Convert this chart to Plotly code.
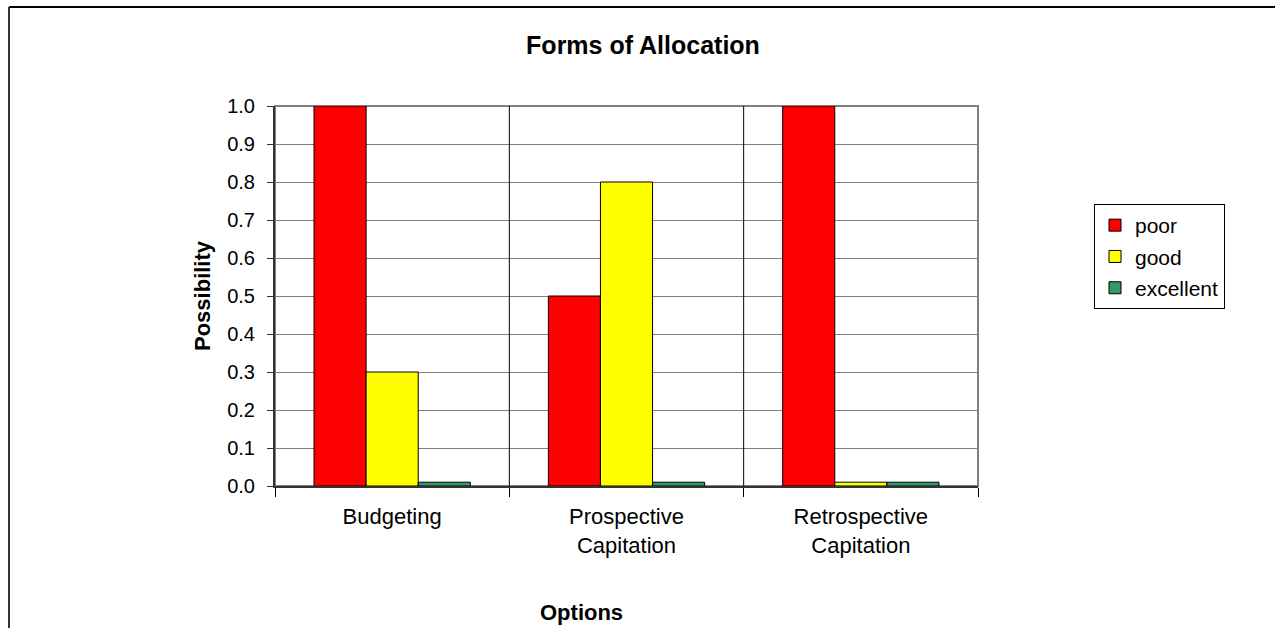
import plotly.graph_objects as go

# Allocation options and the possibility of each rating
categories = ["Budgeting", "Prospective<br>Capitation", "Retrospective<br>Capitation"]
poor = [1.0, 0.5, 1.0]
good = [0.3, 0.8, 0.01]
excellent = [0.01, 0.01, 0.01]
y_ticks = [0.0, 0.1, 0.2, 0.3, 0.4, 0.5, 0.6, 0.7, 0.8, 0.9, 1.0]

W, H = 1275, 628
L, R, T, B = 275, 978, 106, 486  # plot area in pixels
pw, ph = R - L, B - T


def px(x):
    return (x - L) / pw


def py(y):
    return (B - y) / ph


FONT = "Liberation Sans, Arial, sans-serif"

fig = go.Figure()
series = [("poor", poor, "#FF0000"), ("good", good, "#FFFF00"), ("excellent", excellent, "#339966")]
for name, vals, col in series:
    fig.add_trace(go.Bar(
        x=categories, y=vals, name=name, legendgroup=name,
        marker=dict(color=col, line=dict(color="black", width=1)),
    ))

shapes = [
    # plot area frame
    dict(type="rect", xref="paper", yref="paper", x0=0, x1=1, y0=0, y1=1,
         line=dict(color="#808080", width=2), layer="below"),
    # category dividers
    dict(type="line", xref="x", yref="paper", x0=0.5, x1=0.5, y0=0, y1=1,
         line=dict(color="black", width=1)),
    dict(type="line", xref="x", yref="paper", x0=1.5, x1=1.5, y0=0, y1=1,
         line=dict(color="black", width=1)),
    # outer chart border (top and left)
    dict(type="line", xref="paper", yref="paper", x0=px(9), x1=px(1276), y0=py(7), y1=py(7),
         line=dict(color="black", width=2)),
    dict(type="line", xref="paper", yref="paper", x0=px(9), x1=px(9), y0=py(7), y1=py(640),
         line=dict(color="#333333", width=2)),
]

annotations = [
    dict(text="<b>Possibility</b>", xref="paper", yref="paper", x=px(202), y=py(296),
         textangle=-90, showarrow=False, font=dict(family=FONT, size=22, color="black"),
         xanchor="center", yanchor="middle"),
    dict(text="<b>Options</b>", xref="paper", yref="paper", x=px(581), y=py(612),
         showarrow=False, font=dict(family=FONT, size=22, color="black"),
         xanchor="center", yanchor="middle"),
]

fig.update_layout(
    width=W, height=H,
    margin=dict(l=L, r=W - R, t=T, b=H - B, pad=0),
    paper_bgcolor="white", plot_bgcolor="white",
    barmode="group", bargap=0.333, bargroupgap=0,
    title=dict(text="<b>Forms of Allocation</b>", x=643 / W, xanchor="center",
               y=1 - 45 / H, yanchor="middle", font=dict(family=FONT, size=25, color="black")),
    font=dict(family=FONT, size=22, color="black"),
    xaxis=dict(
        type="category", tickson="boundaries", ticks="outside", ticklen=9,
        tickcolor="black", tickwidth=1, showgrid=False, showline=True,
        linecolor="#333333", linewidth=2, range=[-0.5, 2.5],
        tickfont=dict(family=FONT, size=22, color="black"), ticklabelstandoff=10,
    ),
    yaxis=dict(
        range=[0, 1.0], tickvals=y_ticks, tickformat=".1f", ticks="outside", ticklen=6,
        tickcolor="#333333", showgrid=True, gridcolor="#808080", gridwidth=1,
        showline=True, linecolor="#333333", linewidth=2, zeroline=False,
        tickfont=dict(family=FONT, size=20, color="black"), ticklabelstandoff=8,
    ),
    legend=dict(
        x=px(1094), y=py(204), xanchor="left", yanchor="top",
        bordercolor="black", borderwidth=1, bgcolor="white",
        font=dict(family=FONT, size=21, color="black"),
        itemwidth=30, tracegroupgap=1,
    ),
    shapes=shapes, annotations=annotations,
)

fig.write_html("out.html")
